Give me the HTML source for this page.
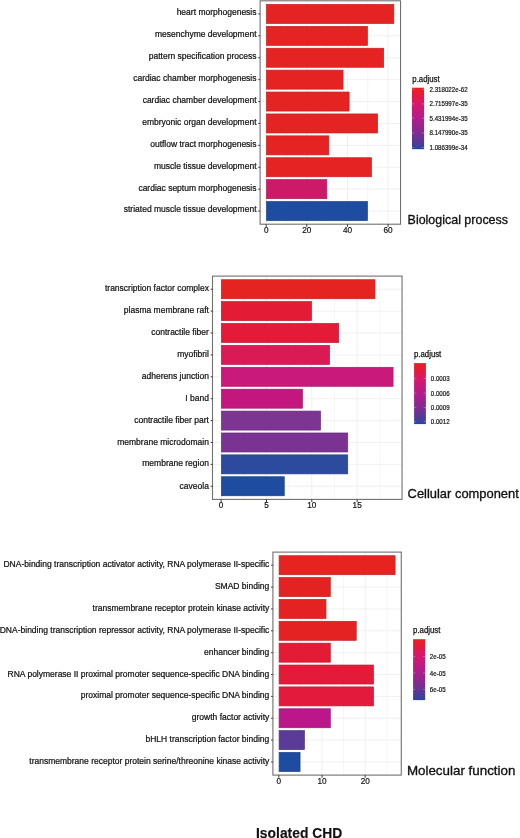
<!DOCTYPE html><html><head><meta charset="utf-8"><style>html,body{margin:0;padding:0;background:#fff;width:520px;height:838px;overflow:hidden}svg{display:block;will-change:transform}text{font-family:"Liberation Sans", sans-serif}.t{fill:#111;stroke:#111;stroke-width:0.22px}.t2{fill:#111;stroke:#111;stroke-width:0.25px}.t4{fill:#111;stroke:#111;stroke-width:0.32px}.t5{fill:#111;stroke:#111;stroke-width:0.15px}.t3{fill:#111;stroke:#111;stroke-width:0.2px}</style></head><body>
<svg width="520" height="838" viewBox="0 0 520 838">
<defs><linearGradient id="g" x1="0" y1="0" x2="0" y2="1"><stop offset="0" stop-color="#EC1F24"/><stop offset="0.12" stop-color="#E51A3A"/><stop offset="0.25" stop-color="#D8186A"/><stop offset="0.5" stop-color="#B31C8A"/><stop offset="0.75" stop-color="#7C2D92"/><stop offset="0.92" stop-color="#4A3C98"/><stop offset="1" stop-color="#2448A0"/></linearGradient></defs>
<rect width="520" height="838" fill="#fff"/>
<line x1="286.51" y1="0.8" x2="286.51" y2="224.2" stroke="#EDEDED" stroke-width="0.5"/><line x1="327.13" y1="0.8" x2="327.13" y2="224.2" stroke="#EDEDED" stroke-width="0.5"/><line x1="367.75" y1="0.8" x2="367.75" y2="224.2" stroke="#EDEDED" stroke-width="0.5"/><line x1="266.2" y1="0.8" x2="266.2" y2="224.2" stroke="#F0F0F0" stroke-width="1"/><line x1="306.82" y1="0.8" x2="306.82" y2="224.2" stroke="#F0F0F0" stroke-width="1"/><line x1="347.44" y1="0.8" x2="347.44" y2="224.2" stroke="#F0F0F0" stroke-width="1"/><line x1="388.06" y1="0.8" x2="388.06" y2="224.2" stroke="#F0F0F0" stroke-width="1"/><line x1="260.1" y1="13.94" x2="400.55" y2="13.94" stroke="#F0F0F0" stroke-width="1"/><line x1="260.1" y1="35.84" x2="400.55" y2="35.84" stroke="#F0F0F0" stroke-width="1"/><line x1="260.1" y1="57.75" x2="400.55" y2="57.75" stroke="#F0F0F0" stroke-width="1"/><line x1="260.1" y1="79.65" x2="400.55" y2="79.65" stroke="#F0F0F0" stroke-width="1"/><line x1="260.1" y1="101.55" x2="400.55" y2="101.55" stroke="#F0F0F0" stroke-width="1"/><line x1="260.1" y1="123.45" x2="400.55" y2="123.45" stroke="#F0F0F0" stroke-width="1"/><line x1="260.1" y1="145.35" x2="400.55" y2="145.35" stroke="#F0F0F0" stroke-width="1"/><line x1="260.1" y1="167.25" x2="400.55" y2="167.25" stroke="#F0F0F0" stroke-width="1"/><line x1="260.1" y1="189.16" x2="400.55" y2="189.16" stroke="#F0F0F0" stroke-width="1"/><line x1="260.1" y1="211.06" x2="400.55" y2="211.06" stroke="#F0F0F0" stroke-width="1"/><rect x="266.55" y="4.44" width="127.25" height="19.01" fill="#E52322" stroke="#c41e1d" stroke-width="0.7"/><rect x="266.55" y="26.34" width="100.85" height="19.01" fill="#E52322" stroke="#c41e1d" stroke-width="0.7"/><rect x="266.55" y="48.24" width="117.1" height="19.01" fill="#E52322" stroke="#c41e1d" stroke-width="0.7"/><rect x="266.55" y="70.14" width="76.48" height="19.01" fill="#E52322" stroke="#c41e1d" stroke-width="0.7"/><rect x="266.55" y="92.04" width="82.57" height="19.01" fill="#E52322" stroke="#c41e1d" stroke-width="0.7"/><rect x="266.55" y="113.95" width="111.01" height="19.01" fill="#E52322" stroke="#c41e1d" stroke-width="0.7"/><rect x="266.55" y="135.85" width="62.26" height="19.01" fill="#E52322" stroke="#c41e1d" stroke-width="0.7"/><rect x="266.55" y="157.75" width="104.91" height="19.01" fill="#E52322" stroke="#c41e1d" stroke-width="0.7"/><rect x="266.55" y="179.65" width="60.23" height="19.01" fill="#CC1A68" stroke="#af1659" stroke-width="0.7"/><rect x="266.55" y="201.55" width="100.85" height="19.01" fill="#1E4C9E" stroke="#194187" stroke-width="0.7"/><rect x="260.1" y="0.8" width="140.45" height="223.4" fill="none" stroke="#707070" stroke-width="1.1"/><line x1="258.3" y1="13.94" x2="260.1" y2="13.94" stroke="#333" stroke-width="1"/><text x="256.5" y="15.34" font-size="8.5" text-anchor="end" class="t">heart morphogenesis</text><line x1="258.3" y1="35.84" x2="260.1" y2="35.84" stroke="#333" stroke-width="1"/><text x="256.5" y="37.24" font-size="8.5" text-anchor="end" class="t">mesenchyme development</text><line x1="258.3" y1="57.75" x2="260.1" y2="57.75" stroke="#333" stroke-width="1"/><text x="256.5" y="59.15" font-size="8.5" text-anchor="end" class="t">pattern specification process</text><line x1="258.3" y1="79.65" x2="260.1" y2="79.65" stroke="#333" stroke-width="1"/><text x="256.5" y="81.05" font-size="8.5" text-anchor="end" class="t">cardiac chamber morphogenesis</text><line x1="258.3" y1="101.55" x2="260.1" y2="101.55" stroke="#333" stroke-width="1"/><text x="256.5" y="102.95" font-size="8.5" text-anchor="end" class="t">cardiac chamber development</text><line x1="258.3" y1="123.45" x2="260.1" y2="123.45" stroke="#333" stroke-width="1"/><text x="256.5" y="124.85" font-size="8.5" text-anchor="end" class="t">embryonic organ development</text><line x1="258.3" y1="145.35" x2="260.1" y2="145.35" stroke="#333" stroke-width="1"/><text x="256.5" y="146.75" font-size="8.5" text-anchor="end" class="t">outflow tract morphogenesis</text><line x1="258.3" y1="167.25" x2="260.1" y2="167.25" stroke="#333" stroke-width="1"/><text x="256.5" y="168.65" font-size="8.5" text-anchor="end" class="t">muscle tissue development</text><line x1="258.3" y1="189.16" x2="260.1" y2="189.16" stroke="#333" stroke-width="1"/><text x="256.5" y="190.56" font-size="8.5" text-anchor="end" class="t">cardiac septum morphogenesis</text><line x1="258.3" y1="211.06" x2="260.1" y2="211.06" stroke="#333" stroke-width="1"/><text x="256.5" y="212.46" font-size="8.5" text-anchor="end" class="t">striated muscle tissue development</text><line x1="266.2" y1="224.2" x2="266.2" y2="226.8" stroke="#333" stroke-width="1"/><text x="266.2" y="233.1" font-size="9.3" text-anchor="middle" class="t" textLength="4.56" lengthAdjust="spacingAndGlyphs">0</text><line x1="306.82" y1="224.2" x2="306.82" y2="226.8" stroke="#333" stroke-width="1"/><text x="306.82" y="233.1" font-size="9.3" text-anchor="middle" class="t" textLength="9.12" lengthAdjust="spacingAndGlyphs">20</text><line x1="347.44" y1="224.2" x2="347.44" y2="226.8" stroke="#333" stroke-width="1"/><text x="347.44" y="233.1" font-size="9.3" text-anchor="middle" class="t" textLength="9.12" lengthAdjust="spacingAndGlyphs">40</text><line x1="388.06" y1="224.2" x2="388.06" y2="226.8" stroke="#333" stroke-width="1"/><text x="388.06" y="233.1" font-size="9.3" text-anchor="middle" class="t" textLength="9.12" lengthAdjust="spacingAndGlyphs">60</text><text x="412.3" y="81.8" font-size="8.2" class="t2" textLength="27.3" lengthAdjust="spacingAndGlyphs">p.adjust</text><rect x="412" y="87.7" width="12.1" height="61.5" fill="url(#g)"/><line x1="412" y1="89.2" x2="414.2" y2="89.2" stroke="#fff" stroke-width="0.6" opacity="0.45"/><line x1="421.9" y1="89.2" x2="424.1" y2="89.2" stroke="#fff" stroke-width="0.6" opacity="0.45"/><text x="429.5" y="91.74" font-size="7.1" class="t3" textLength="38.08" lengthAdjust="spacingAndGlyphs">2.318022e-62</text><line x1="412" y1="103.9" x2="414.2" y2="103.9" stroke="#fff" stroke-width="0.6" opacity="0.45"/><line x1="421.9" y1="103.9" x2="424.1" y2="103.9" stroke="#fff" stroke-width="0.6" opacity="0.45"/><text x="429.5" y="106.44" font-size="7.1" class="t3" textLength="38.08" lengthAdjust="spacingAndGlyphs">2.715997e-35</text><line x1="412" y1="118.2" x2="414.2" y2="118.2" stroke="#fff" stroke-width="0.6" opacity="0.45"/><line x1="421.9" y1="118.2" x2="424.1" y2="118.2" stroke="#fff" stroke-width="0.6" opacity="0.45"/><text x="429.5" y="120.74" font-size="7.1" class="t3" textLength="38.08" lengthAdjust="spacingAndGlyphs">5.431994e-35</text><line x1="412" y1="132.9" x2="414.2" y2="132.9" stroke="#fff" stroke-width="0.6" opacity="0.45"/><line x1="421.9" y1="132.9" x2="424.1" y2="132.9" stroke="#fff" stroke-width="0.6" opacity="0.45"/><text x="429.5" y="135.44" font-size="7.1" class="t3" textLength="38.08" lengthAdjust="spacingAndGlyphs">8.147990e-35</text><line x1="412" y1="147.4" x2="414.2" y2="147.4" stroke="#fff" stroke-width="0.6" opacity="0.45"/><line x1="421.9" y1="147.4" x2="424.1" y2="147.4" stroke="#fff" stroke-width="0.6" opacity="0.45"/><text x="429.5" y="149.94" font-size="7.1" class="t3" textLength="38.08" lengthAdjust="spacingAndGlyphs">1.086399e-34</text><text x="407.6" y="224.2" font-size="12.8" class="t4" textLength="100.4" lengthAdjust="spacingAndGlyphs">Biological process</text>
<line x1="243.78" y1="276.1" x2="243.78" y2="499.4" stroke="#EDEDED" stroke-width="0.5"/><line x1="289.12" y1="276.1" x2="289.12" y2="499.4" stroke="#EDEDED" stroke-width="0.5"/><line x1="334.48" y1="276.1" x2="334.48" y2="499.4" stroke="#EDEDED" stroke-width="0.5"/><line x1="379.82" y1="276.1" x2="379.82" y2="499.4" stroke="#EDEDED" stroke-width="0.5"/><line x1="221.1" y1="276.1" x2="221.1" y2="499.4" stroke="#F0F0F0" stroke-width="1"/><line x1="266.45" y1="276.1" x2="266.45" y2="499.4" stroke="#F0F0F0" stroke-width="1"/><line x1="311.8" y1="276.1" x2="311.8" y2="499.4" stroke="#F0F0F0" stroke-width="1"/><line x1="357.15" y1="276.1" x2="357.15" y2="499.4" stroke="#F0F0F0" stroke-width="1"/><line x1="212.5" y1="289.24" x2="402.05" y2="289.24" stroke="#F0F0F0" stroke-width="1"/><line x1="212.5" y1="311.13" x2="402.05" y2="311.13" stroke="#F0F0F0" stroke-width="1"/><line x1="212.5" y1="333.02" x2="402.05" y2="333.02" stroke="#F0F0F0" stroke-width="1"/><line x1="212.5" y1="354.91" x2="402.05" y2="354.91" stroke="#F0F0F0" stroke-width="1"/><line x1="212.5" y1="376.8" x2="402.05" y2="376.8" stroke="#F0F0F0" stroke-width="1"/><line x1="212.5" y1="398.7" x2="402.05" y2="398.7" stroke="#F0F0F0" stroke-width="1"/><line x1="212.5" y1="420.59" x2="402.05" y2="420.59" stroke="#F0F0F0" stroke-width="1"/><line x1="212.5" y1="442.48" x2="402.05" y2="442.48" stroke="#F0F0F0" stroke-width="1"/><line x1="212.5" y1="464.37" x2="402.05" y2="464.37" stroke="#F0F0F0" stroke-width="1"/><line x1="212.5" y1="486.26" x2="402.05" y2="486.26" stroke="#F0F0F0" stroke-width="1"/><rect x="221.45" y="279.73" width="153.49" height="19" fill="#E52421" stroke="#c41e1c" stroke-width="0.7"/><rect x="221.45" y="301.63" width="90" height="19" fill="#E41B35" stroke="#c4172d" stroke-width="0.7"/><rect x="221.45" y="323.52" width="117.21" height="19" fill="#E31A38" stroke="#c31630" stroke-width="0.7"/><rect x="221.45" y="345.41" width="108.14" height="19" fill="#DA1A55" stroke="#bb1649" stroke-width="0.7"/><rect x="221.45" y="367.3" width="171.63" height="19" fill="#C9197A" stroke="#ac1568" stroke-width="0.7"/><rect x="221.45" y="389.19" width="80.93" height="19" fill="#C4177E" stroke="#a8136c" stroke-width="0.7"/><rect x="221.45" y="411.09" width="99.07" height="19" fill="#7C3592" stroke="#6a2d7d" stroke-width="0.7"/><rect x="221.45" y="432.98" width="126.28" height="19" fill="#7A3392" stroke="#682b7d" stroke-width="0.7"/><rect x="221.45" y="454.87" width="126.28" height="19" fill="#2D4B9E" stroke="#264087" stroke-width="0.7"/><rect x="221.45" y="476.76" width="62.79" height="19" fill="#1E4CA0" stroke="#194189" stroke-width="0.7"/><rect x="212.5" y="276.1" width="189.55" height="223.3" fill="none" stroke="#707070" stroke-width="1.1"/><line x1="210.7" y1="289.24" x2="212.5" y2="289.24" stroke="#333" stroke-width="1"/><text x="208.9" y="291.24" font-size="8.5" text-anchor="end" class="t">transcription factor complex</text><line x1="210.7" y1="311.13" x2="212.5" y2="311.13" stroke="#333" stroke-width="1"/><text x="208.9" y="313.13" font-size="8.5" text-anchor="end" class="t">plasma membrane raft</text><line x1="210.7" y1="333.02" x2="212.5" y2="333.02" stroke="#333" stroke-width="1"/><text x="208.9" y="335.42" font-size="8.5" text-anchor="end" class="t">contractile fiber</text><line x1="210.7" y1="354.91" x2="212.5" y2="354.91" stroke="#333" stroke-width="1"/><text x="208.9" y="356.91" font-size="8.5" text-anchor="end" class="t">myofibril</text><line x1="210.7" y1="376.8" x2="212.5" y2="376.8" stroke="#333" stroke-width="1"/><text x="208.9" y="378.8" font-size="8.5" text-anchor="end" class="t">adherens junction</text><line x1="210.7" y1="398.7" x2="212.5" y2="398.7" stroke="#333" stroke-width="1"/><text x="208.9" y="401.1" font-size="8.5" text-anchor="end" class="t">I band</text><line x1="210.7" y1="420.59" x2="212.5" y2="420.59" stroke="#333" stroke-width="1"/><text x="208.9" y="422.59" font-size="8.5" text-anchor="end" class="t">contractile fiber part</text><line x1="210.7" y1="442.48" x2="212.5" y2="442.48" stroke="#333" stroke-width="1"/><text x="208.9" y="444.88" font-size="8.5" text-anchor="end" class="t">membrane microdomain</text><line x1="210.7" y1="464.37" x2="212.5" y2="464.37" stroke="#333" stroke-width="1"/><text x="208.9" y="466.37" font-size="8.5" text-anchor="end" class="t">membrane region</text><line x1="210.7" y1="486.26" x2="212.5" y2="486.26" stroke="#333" stroke-width="1"/><text x="208.9" y="488.66" font-size="8.5" text-anchor="end" class="t">caveola</text><line x1="221.1" y1="499.4" x2="221.1" y2="502" stroke="#333" stroke-width="1"/><text x="221.1" y="508.3" font-size="9.3" text-anchor="middle" class="t" textLength="4.56" lengthAdjust="spacingAndGlyphs">0</text><line x1="266.45" y1="499.4" x2="266.45" y2="502" stroke="#333" stroke-width="1"/><text x="266.45" y="508.3" font-size="9.3" text-anchor="middle" class="t" textLength="4.56" lengthAdjust="spacingAndGlyphs">5</text><line x1="311.8" y1="499.4" x2="311.8" y2="502" stroke="#333" stroke-width="1"/><text x="311.8" y="508.3" font-size="9.3" text-anchor="middle" class="t" textLength="9.12" lengthAdjust="spacingAndGlyphs">10</text><line x1="357.15" y1="499.4" x2="357.15" y2="502" stroke="#333" stroke-width="1"/><text x="357.15" y="508.3" font-size="9.3" text-anchor="middle" class="t" textLength="9.12" lengthAdjust="spacingAndGlyphs">15</text><text x="414" y="356.8" font-size="8.2" class="t2" textLength="27.3" lengthAdjust="spacingAndGlyphs">p.adjust</text><rect x="414.1" y="363.1" width="11.8" height="61" fill="url(#g)"/><line x1="414.1" y1="378.4" x2="416.3" y2="378.4" stroke="#fff" stroke-width="0.6" opacity="0.45"/><line x1="423.7" y1="378.4" x2="425.9" y2="378.4" stroke="#fff" stroke-width="0.6" opacity="0.45"/><text x="430.8" y="380.94" font-size="7.1" class="t3" textLength="18.87" lengthAdjust="spacingAndGlyphs">0.0003</text><line x1="414.1" y1="393.1" x2="416.3" y2="393.1" stroke="#fff" stroke-width="0.6" opacity="0.45"/><line x1="423.7" y1="393.1" x2="425.9" y2="393.1" stroke="#fff" stroke-width="0.6" opacity="0.45"/><text x="430.8" y="395.64" font-size="7.1" class="t3" textLength="18.87" lengthAdjust="spacingAndGlyphs">0.0006</text><line x1="414.1" y1="407.4" x2="416.3" y2="407.4" stroke="#fff" stroke-width="0.6" opacity="0.45"/><line x1="423.7" y1="407.4" x2="425.9" y2="407.4" stroke="#fff" stroke-width="0.6" opacity="0.45"/><text x="430.8" y="409.94" font-size="7.1" class="t3" textLength="18.87" lengthAdjust="spacingAndGlyphs">0.0009</text><line x1="414.1" y1="421.7" x2="416.3" y2="421.7" stroke="#fff" stroke-width="0.6" opacity="0.45"/><line x1="423.7" y1="421.7" x2="425.9" y2="421.7" stroke="#fff" stroke-width="0.6" opacity="0.45"/><text x="430.8" y="424.24" font-size="7.1" class="t3" textLength="18.87" lengthAdjust="spacingAndGlyphs">0.0012</text><text x="407.6" y="498.1" font-size="12.8" class="t4" textLength="111.2" lengthAdjust="spacingAndGlyphs">Cellular component</text>
<line x1="300.4" y1="552.1" x2="300.4" y2="775.1" stroke="#EDEDED" stroke-width="0.5"/><line x1="343.6" y1="552.1" x2="343.6" y2="775.1" stroke="#EDEDED" stroke-width="0.5"/><line x1="386.8" y1="552.1" x2="386.8" y2="775.1" stroke="#EDEDED" stroke-width="0.5"/><line x1="278.8" y1="552.1" x2="278.8" y2="775.1" stroke="#F0F0F0" stroke-width="1"/><line x1="322" y1="552.1" x2="322" y2="775.1" stroke="#F0F0F0" stroke-width="1"/><line x1="365.2" y1="552.1" x2="365.2" y2="775.1" stroke="#F0F0F0" stroke-width="1"/><line x1="272.9" y1="565.22" x2="401.27" y2="565.22" stroke="#F0F0F0" stroke-width="1"/><line x1="272.9" y1="587.08" x2="401.27" y2="587.08" stroke="#F0F0F0" stroke-width="1"/><line x1="272.9" y1="608.94" x2="401.27" y2="608.94" stroke="#F0F0F0" stroke-width="1"/><line x1="272.9" y1="630.81" x2="401.27" y2="630.81" stroke="#F0F0F0" stroke-width="1"/><line x1="272.9" y1="652.67" x2="401.27" y2="652.67" stroke="#F0F0F0" stroke-width="1"/><line x1="272.9" y1="674.53" x2="401.27" y2="674.53" stroke="#F0F0F0" stroke-width="1"/><line x1="272.9" y1="696.39" x2="401.27" y2="696.39" stroke="#F0F0F0" stroke-width="1"/><line x1="272.9" y1="718.26" x2="401.27" y2="718.26" stroke="#F0F0F0" stroke-width="1"/><line x1="272.9" y1="740.12" x2="401.27" y2="740.12" stroke="#F0F0F0" stroke-width="1"/><line x1="272.9" y1="761.98" x2="401.27" y2="761.98" stroke="#F0F0F0" stroke-width="1"/><rect x="279.15" y="555.73" width="115.94" height="18.98" fill="#E52421" stroke="#c41e1c" stroke-width="0.7"/><rect x="279.15" y="577.59" width="51.14" height="18.98" fill="#E52222" stroke="#c41d1d" stroke-width="0.7"/><rect x="279.15" y="599.45" width="46.82" height="18.98" fill="#E42222" stroke="#c41d1d" stroke-width="0.7"/><rect x="279.15" y="621.32" width="77.06" height="18.98" fill="#E42222" stroke="#c41d1d" stroke-width="0.7"/><rect x="279.15" y="643.18" width="51.14" height="18.98" fill="#E31B35" stroke="#c3172d" stroke-width="0.7"/><rect x="279.15" y="665.04" width="94.34" height="18.98" fill="#E31B38" stroke="#c31730" stroke-width="0.7"/><rect x="279.15" y="686.91" width="94.34" height="18.98" fill="#E31A3C" stroke="#c31633" stroke-width="0.7"/><rect x="279.15" y="708.77" width="51.14" height="18.98" fill="#BC178A" stroke="#a11376" stroke-width="0.7"/><rect x="279.15" y="730.63" width="25.22" height="18.98" fill="#5A3C98" stroke="#4d3382" stroke-width="0.7"/><rect x="279.15" y="752.49" width="20.9" height="18.98" fill="#1E4CA0" stroke="#194189" stroke-width="0.7"/><rect x="272.9" y="552.1" width="128.37" height="223" fill="none" stroke="#707070" stroke-width="1.1"/><line x1="271.1" y1="565.22" x2="272.9" y2="565.22" stroke="#333" stroke-width="1"/><text x="269.3" y="567.22" font-size="8.5" text-anchor="end" class="t">DNA-binding transcription activator activity, RNA polymerase II-specific</text><line x1="271.1" y1="587.08" x2="272.9" y2="587.08" stroke="#333" stroke-width="1"/><text x="269.3" y="589.08" font-size="8.5" text-anchor="end" class="t">SMAD binding</text><line x1="271.1" y1="608.94" x2="272.9" y2="608.94" stroke="#333" stroke-width="1"/><text x="269.3" y="610.94" font-size="8.5" text-anchor="end" class="t">transmembrane receptor protein kinase activity</text><line x1="271.1" y1="630.81" x2="272.9" y2="630.81" stroke="#333" stroke-width="1"/><text x="269.3" y="632.81" font-size="8.5" text-anchor="end" class="t">DNA-binding transcription repressor activity, RNA polymerase II-specific</text><line x1="271.1" y1="652.67" x2="272.9" y2="652.67" stroke="#333" stroke-width="1"/><text x="269.3" y="654.67" font-size="8.5" text-anchor="end" class="t">enhancer binding</text><line x1="271.1" y1="674.53" x2="272.9" y2="674.53" stroke="#333" stroke-width="1"/><text x="269.3" y="676.53" font-size="8.5" text-anchor="end" class="t">RNA polymerase II proximal promoter sequence-specific DNA binding</text><line x1="271.1" y1="696.39" x2="272.9" y2="696.39" stroke="#333" stroke-width="1"/><text x="269.3" y="698.39" font-size="8.5" text-anchor="end" class="t">proximal promoter sequence-specific DNA binding</text><line x1="271.1" y1="718.26" x2="272.9" y2="718.26" stroke="#333" stroke-width="1"/><text x="269.3" y="720.26" font-size="8.5" text-anchor="end" class="t">growth factor activity</text><line x1="271.1" y1="740.12" x2="272.9" y2="740.12" stroke="#333" stroke-width="1"/><text x="269.3" y="742.12" font-size="8.5" text-anchor="end" class="t">bHLH transcription factor binding</text><line x1="271.1" y1="761.98" x2="272.9" y2="761.98" stroke="#333" stroke-width="1"/><text x="269.3" y="763.98" font-size="8.5" text-anchor="end" class="t">transmembrane receptor protein serine/threonine kinase activity</text><line x1="278.8" y1="775.1" x2="278.8" y2="777.7" stroke="#333" stroke-width="1"/><text x="278.8" y="784" font-size="9.3" text-anchor="middle" class="t" textLength="4.56" lengthAdjust="spacingAndGlyphs">0</text><line x1="322" y1="775.1" x2="322" y2="777.7" stroke="#333" stroke-width="1"/><text x="322" y="784" font-size="9.3" text-anchor="middle" class="t" textLength="9.12" lengthAdjust="spacingAndGlyphs">10</text><line x1="365.2" y1="775.1" x2="365.2" y2="777.7" stroke="#333" stroke-width="1"/><text x="365.2" y="784" font-size="9.3" text-anchor="middle" class="t" textLength="9.12" lengthAdjust="spacingAndGlyphs">20</text><text x="413.1" y="632.6" font-size="8.2" class="t2" textLength="27.3" lengthAdjust="spacingAndGlyphs">p.adjust</text><rect x="413.1" y="639.2" width="12.1" height="60.9" fill="url(#g)"/><line x1="413.1" y1="656.6" x2="415.3" y2="656.6" stroke="#fff" stroke-width="0.6" opacity="0.45"/><line x1="423" y1="656.6" x2="425.2" y2="656.6" stroke="#fff" stroke-width="0.6" opacity="0.45"/><text x="429.8" y="659.14" font-size="7.1" class="t3" textLength="15.78" lengthAdjust="spacingAndGlyphs">2e-05</text><line x1="413.1" y1="673" x2="415.3" y2="673" stroke="#fff" stroke-width="0.6" opacity="0.45"/><line x1="423" y1="673" x2="425.2" y2="673" stroke="#fff" stroke-width="0.6" opacity="0.45"/><text x="429.8" y="675.54" font-size="7.1" class="t3" textLength="15.78" lengthAdjust="spacingAndGlyphs">4e-05</text><line x1="413.1" y1="689.3" x2="415.3" y2="689.3" stroke="#fff" stroke-width="0.6" opacity="0.45"/><line x1="423" y1="689.3" x2="425.2" y2="689.3" stroke="#fff" stroke-width="0.6" opacity="0.45"/><text x="429.8" y="691.84" font-size="7.1" class="t3" textLength="15.78" lengthAdjust="spacingAndGlyphs">6e-05</text><text x="406.9" y="775.3" font-size="12.8" class="t4" textLength="108.5" lengthAdjust="spacingAndGlyphs">Molecular function</text>
<text x="256" y="837.6" font-size="15.2" font-weight="bold" class="t5" textLength="86.3" lengthAdjust="spacingAndGlyphs">Isolated CHD</text>
</svg></body></html>
